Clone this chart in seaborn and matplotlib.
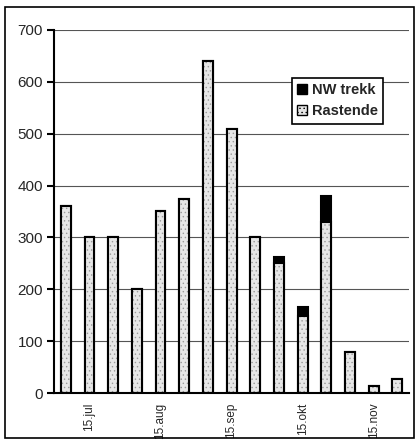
import matplotlib
matplotlib.use("Agg")
import matplotlib.pyplot as plt
import seaborn as sns
import pandas as pd
import numpy as np
from matplotlib.patches import Patch, Rectangle

periods = ["5.jul", "15.jul", "25.jul", "5.aug", "15.aug", "25.aug", "5.sep", "15.sep",
           "25.sep", "5.okt", "15.okt", "25.okt", "5.nov", "15.nov", "25.nov"]
rastende = [360, 300, 300, 200, 350, 375, 640, 510, 300, 250, 148, 330, 80, 13, 27]
nw_trekk = [0, 0, 0, 0, 0, 0, 0, 0, 0, 12, 18, 50, 0, 0, 0]
shown_labels = ["", "15.jul", "", "", "15.aug", "", "", "15.sep", "", "", "15.okt", "", "", "15.nov", ""]
yticks = [0, 100, 200, 300, 400, 500, 600, 700]

df = pd.DataFrame({"period": periods, "Rastende": rastende, "NW": nw_trekk})
df["total"] = df["Rastende"] + df["NW"]

sns.set_theme(style="white")
plt.rcParams["font.family"] = ["Liberation Sans", "DejaVu Sans"]
plt.rcParams["hatch.linewidth"] = 0.5

fig = plt.figure(figsize=(4.17, 4.47), dpi=100)
ax = fig.add_axes([0.1295, 0.1208, 0.8515, 0.8121])

ax.set_axisbelow(True)
ax.yaxis.grid(True, color="#555555", linewidth=0.8)

bw = 0.42
sns.barplot(data=df, x="period", y="total", color="black", width=bw,
            edgecolor="black", linewidth=1.5, saturation=1, ax=ax)
sns.barplot(data=df, x="period", y="Rastende", color="#e6e6e6", width=bw,
            edgecolor="#9a9a9a", linewidth=0, hatch="....", saturation=1, ax=ax)
sns.barplot(data=df, x="period", y="Rastende", width=bw, fill=False,
            edgecolor="black", linewidth=1.5, ax=ax)

ax.set_xlim(-0.5, len(periods) - 0.5)
ax.set_ylim(0, 700)
ax.set_yticks(yticks)
ax.set_yticklabels([str(v) for v in yticks], fontsize=11)
ax.set_xticks(range(len(periods)))
ax.set_xticklabels(shown_labels, rotation=90, fontsize=8.5)
ax.tick_params(axis="x", which="major", length=0, pad=7)
ax.set_xticks(np.arange(-0.5, len(periods)), minor=True)
ax.tick_params(axis="x", which="minor", direction="inout", length=8, width=1.5, color="black")
ax.tick_params(axis="y", which="major", direction="out", length=5, width=1.5, color="black", left=True, pad=3)
ax.set_xlabel("")
ax.set_ylabel("")

for s in ["top", "right"]:
    ax.spines[s].set_visible(False)
for s in ["left", "bottom"]:
    ax.spines[s].set_color("black")
    ax.spines[s].set_linewidth(1.5)

handles = [Patch(facecolor="black", edgecolor="black", label="NW trekk"),
           Patch(facecolor="#e6e6e6", edgecolor="black", hatch="....", label="Rastende")]
leg = ax.legend(handles=handles, loc="upper left", bbox_to_anchor=(0.700, 0.8255),
                bbox_transform=fig.transFigure, frameon=True, fancybox=False,
                prop={"weight": "bold", "size": 10.5}, handlelength=0.7, handleheight=0.7,
                handletextpad=0.3, borderpad=0.35, labelspacing=0.5, borderaxespad=0)
leg.get_frame().set_edgecolor("black")
leg.get_frame().set_linewidth(1.2)
leg.get_frame().set_alpha(1)

fig.patches.append(Rectangle((5 / 417, 1 - 438 / 447), 409 / 417, 431 / 447,
                             transform=fig.transFigure, fill=False, edgecolor="black",
                             linewidth=1.2))

fig.savefig("out.png", dpi=100)
